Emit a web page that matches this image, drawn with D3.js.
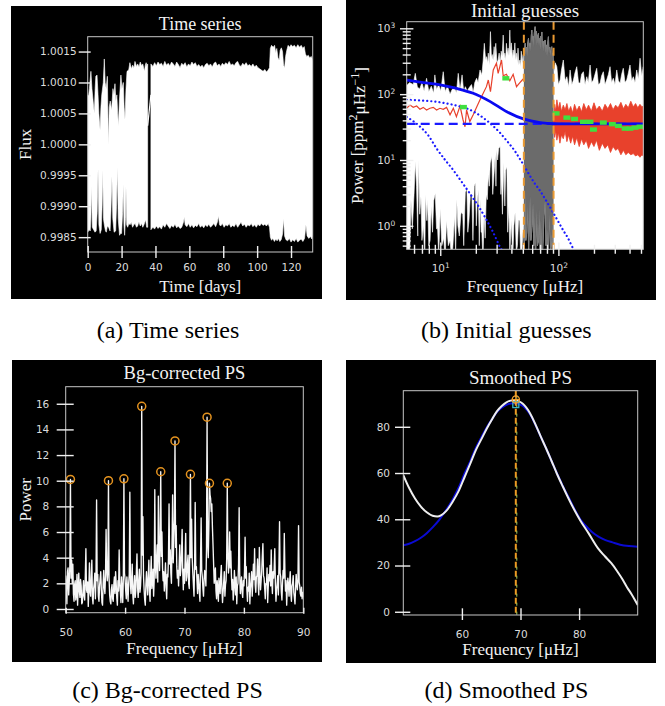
<!DOCTYPE html>
<html>
<head>
<meta charset="utf-8">
<script src="https://cdn.jsdelivr.net/npm/d3@7"></script>
<style>
  body { margin: 0; background: #fff; }
  svg { display: block; }
</style>
</head>
<body>
<svg id="fig" width="665" height="706"></svg>
<script>
// ---------- (a) time series: flux envelope ----------
const tsUpperA = [[0,1.0008],[0.5,1.00078],[1.0,1.0009],[1.9,1.00118],[2.5,1.0009],[3.2,1.0007],[3.9,1.0005],[4.4,1.0009],[4.8,1.0011],[5.5,1.00112],[6.1,1.0008],[6.6,1.0005],[7.3,1.00023],[7.8,1.0006],[8.3,1.0008],[9.2,1.001],[9.8,1.00138],[10.3,1.001],[10.9,1.0009],[11.6,1.0011],[12.2,0.99999],[12.7,1.0006],[13.3,1.0007],[14.1,1.00055],[14.9,1.0009],[15.5,1.0008],[16.1,1.00098],[16.6,1.0007],[17.2,1.0008],[17.7,1.0005],[18.1,1.0003],[18.7,1.0007],[19.6,1.00112],[20.2,1.0009],[21.0,1.001],[21.5,1.0006],[22.0,1.0004],[22.6,1.0009],[23.2,1.00118],[24.2,1.0012],[24.9,1.00132],[25.8,1.00122],[26.5,1.00128],[27.3,1.00124],[27.9,1.00134],[28.8,1.00126],[29.5,1.0013],[30.3,1.00125],[31,1.00133],[31.8,1.00127],[32.5,1.0013],[33.5,1.00118],[34.0,1.00128],[34.5,1.00132],[35.0,1.00126],[35.4,1.0013]];
const tsLowerA = [[0,0.99858],[0.8,0.99862],[1.5,0.9986],[1.9,0.9988],[2.3,0.99932],[2.7,0.99866],[3.5,0.99862],[4.3,0.99858],[5.0,0.9986],[5.6,0.9989],[6.1,0.9996],[6.6,0.9987],[7.3,0.99856],[8.0,0.99862],[8.5,0.999],[8.9,0.99958],[9.3,0.9988],[9.8,0.9987],[10.5,0.9986],[11.0,0.99858],[11.6,0.99868],[12.3,0.99866],[13.2,0.9986],[13.7,0.9989],[14.3,0.99948],[14.8,0.9988],[15.6,0.99858],[16.5,0.9986],[17.0,0.999],[17.5,0.99962],[18.0,0.9988],[18.8,0.99853],[19.4,0.99856],[20.0,0.99856],[20.6,0.9989],[21.0,0.99935],[21.4,0.9987],[21.8,0.99853],[22.3,0.9988],[22.6,0.99932],[23.0,0.9987],[23.6,0.99866],[24.3,0.99872],[25,0.9987],[25.7,0.99874],[26.5,0.99866],[27.2,0.9987],[28,0.99872],[28.8,0.99866],[29.5,0.99868],[30.2,0.99875],[31,0.99868],[31.8,0.99872],[32.5,0.99866],[33.2,0.9987],[34.2,0.99878],[34.8,0.99866],[35.4,0.99866]];
const tsUpperB = [[37.3,1.0013],[38.5,1.00126],[39.5,1.00132],[40.5,1.00127],[41.5,1.00133],[42.5,1.00129],[43.5,1.00131],[44.5,1.00126],[45.5,1.00134],[46.5,1.00128],[47.5,1.00131],[48.5,1.00127],[49.5,1.00133],[50.5,1.0013],[51.5,1.00126],[52.5,1.00133],[53.5,1.00129],[54.5,1.00124],[55.5,1.00131],[56.5,1.00128],[57.5,1.00132],[58.5,1.00125],[59.5,1.0013],[60.5,1.00127],[61.5,1.00133],[62.5,1.00129],[63.5,1.00132],[64.5,1.00126],[65.5,1.00129],[66.5,1.00125],[67.5,1.00128],[68.5,1.00124],[69.5,1.00129],[70.5,1.00131],[71.5,1.00127],[72.5,1.0013],[73.5,1.00125],[74.5,1.00131],[75.5,1.00133],[76.5,1.00127],[77.5,1.0013],[78.5,1.00126],[79.5,1.00131],[80.5,1.00128],[81.5,1.00132],[82.5,1.00129],[83.5,1.00134],[84.5,1.00128],[85.5,1.0013],[86.5,1.00127],[87.5,1.00132],[88.5,1.00134],[89.5,1.00128],[90.5,1.00126],[91.5,1.00131],[92.5,1.00128],[93.5,1.00132],[94.5,1.00127],[95.5,1.00129],[96.5,1.00126],[97.5,1.0013],[98.5,1.00125],[99.5,1.00128],[100.5,1.00124],[101.5,1.00122],[102.5,1.0012],[103.5,1.00118],[104.5,1.00121],[105.5,1.00117],[106.5,1.0012],[107.3,1.00124],[107.8,1.00155],[108.5,1.0016],[109.5,1.00157],[110.3,1.0016],[111.0,1.00148],[111.6,1.00155],[112.3,1.0014],[113.0,1.00136],[113.6,1.00152],[114.3,1.00156],[115.0,1.0015],[115.6,1.00128],[116.2,1.00124],[116.8,1.00142],[117.5,1.00152],[118.3,1.0016],[119.2,1.00157],[120,1.00161],[121,1.00158],[122,1.0016],[123,1.00156],[124,1.00161],[125,1.00157],[126,1.0016],[127,1.00155],[127.8,1.00158],[128.5,1.00146],[129.3,1.00142],[130.2,1.00144],[131,1.0014],[132,1.00142],[133,1.00134]];
const tsLowerB = [[37.3,0.99862],[38.5,0.99866],[39.5,0.99863],[40.5,0.99868],[41.5,0.99864],[42.5,0.99867],[43.5,0.99863],[44.5,0.9987],[45.5,0.99866],[46.5,0.99872],[47.5,0.99868],[48.5,0.99864],[49.5,0.99869],[50.5,0.99866],[51.5,0.99871],[52.5,0.99865],[53.5,0.99868],[54.5,0.99864],[55.5,0.99866],[56.5,0.99874],[57.0,0.99882],[57.5,0.9987],[58.5,0.99867],[59.5,0.99872],[60.5,0.99866],[61.5,0.9987],[62.5,0.99865],[63.5,0.99869],[64.5,0.99867],[65.5,0.99872],[66.5,0.99866],[67.5,0.99869],[68.5,0.99865],[69.5,0.9987],[70.5,0.99867],[71.5,0.99871],[72.5,0.99866],[73.5,0.99869],[74.5,0.99872],[75.5,0.99867],[76.5,0.99874],[77.2,0.99884],[77.8,0.9987],[78.5,0.99868],[79.5,0.99872],[80.5,0.99866],[81.5,0.9987],[82.5,0.99868],[83.5,0.99872],[84.5,0.99866],[85.5,0.99869],[86.5,0.99867],[87.5,0.99872],[88.5,0.99866],[89.5,0.9987],[90.5,0.99874],[91.5,0.99868],[92.5,0.99871],[93.5,0.99866],[94.5,0.9987],[95.5,0.99868],[96.5,0.99872],[97.5,0.99867],[98.5,0.9987],[99.5,0.99866],[100.5,0.99871],[101.5,0.99868],[102.5,0.99872],[103.5,0.99869],[104.5,0.99871],[105.5,0.99868],[106.5,0.99872],[107.3,0.99866],[107.8,0.9985],[108.5,0.99845],[109.3,0.99848],[110.2,0.99843],[111.0,0.99847],[111.8,0.99844],[112.6,0.99848],[113.4,0.99843],[114.2,0.99846],[115.0,0.99855],[115.6,0.9988],[116.2,0.99852],[117.0,0.99846],[118,0.99844],[119,0.99848],[120,0.99842],[121,0.99846],[122,0.99843],[123,0.99848],[124,0.99842],[125,0.99845],[126,0.99847],[127,0.99843],[128,0.99848],[128.8,0.9987],[129.5,0.99852],[130.5,0.99848],[131.5,0.99851],[132.3,0.99847],[133,0.99855]];
const tsGapLine = [[35.4, 1.0003], [37.3, 1.0008]];
const timeTicks = [0, 20, 40, 60, 80, 100, 120];
const fluxTicks = [0.9985, 0.999, 0.9995, 1.0, 1.0005, 1.001, 1.0015];

// ---------- (b) initial guesses: raw PS envelope, smoothed PS, background model ----------
const rawHi = [[5.2,135],[5.5,150],[5.9,140],[6.15,207],[6.4,128],[6.7,120],[7.0,150],[7.3,112],[7.66,174],[8.0,110],[8.4,132],[8.8,104],[9.0,196],[9.3,118],[9.7,140],[10.1,112],[10.6,219],[11.0,110],[11.5,132],[12.1,100],[12.6,118],[13.2,128],[13.7,104],[14.2,207],[14.7,114],[15.3,196],[15.8,108],[16.3,130],[16.9,112],[17.6,126],[18.4,140],[19.0,106],[19.6,150],[20.3,174],[20.9,150],[21.7,233],[22.5,196],[23.1,330],[23.6,592],[24.2,330],[24.6,371],[25.1,300],[25.5,420],[26.0,280],[26.6,890],[27.1,360],[27.5,400],[28.0,330],[28.6,526],[29.0,360],[29.5,592],[30.2,300],[30.9,330],[31.5,420],[32.2,300],[32.8,450],[33.4,380],[34.1,790],[34.7,350],[35.2,420],[35.8,330],[36.3,592],[37.0,400],[37.5,500],[38.2,380],[38.8,940],[39.4,420],[40.0,600],[40.7,350],[41.4,469],[42.1,380],[42.8,600],[43.5,330],[44.2,418],[44.9,300],[45.5,500],[46.3,280],[47.2,330],[47.8,260],[48.5,450],[49.3,300],[50.3,400],[51.0,280],[51.7,450],[52.3,592],[53.0,400],[53.6,520],[54.3,380],[55.0,600],[55.8,705],[56.6,480],[57.5,600],[58.2,450],[58.9,760],[59.6,940],[60.3,600],[61.0,760],[61.7,520],[62.5,850],[63.5,1060],[64.3,640],[65.1,900],[65.8,560],[66.6,760],[67.7,840],[68.5,560],[69.3,700],[70.1,480],[71.0,760],[71.7,600],[72.4,880],[73.3,500],[74.2,640],[75.1,450],[76.0,600],[77.2,665],[78.2,420],[79.2,560],[80.1,380],[81.1,600],[82.3,746],[83.3,420],[84.4,520],[85.6,380],[86.8,500],[87.9,526],[89.0,350],[90.0,420],[91.0,200],[94,300],[97,261],[100,140],[103.4,164],[106,230],[110,330],[114,160],[118,184],[122,130],[125.6,233],[130,140],[134,164],[138,210],[143,261],[148,150],[152.6,146],[157,200],[162.7,219],[168,140],[173.8,184],[179,150],[185.4,277],[191,150],[197.7,164],[204,200],[211,247],[218,140],[225,146],[232,190],[240,219],[248,140],[256,164],[265,200],[273.5,261],[282,150],[291.7,174],[301,140],[311.7,233],[322,160],[332.4,146],[343,200],[354,247],[366,150],[378.5,164],[391,210],[403.6,277],[417,160],[430.5,184],[445,150],[460,233],[475,170],[491,351],[507,190],[523,261]];
const rawLo = [[5.2,0.3],[5.5,0.3],[5.65,2.5],[5.8,0.9],[6.0,3],[6.15,9.4],[6.3,4],[6.45,0.7],[6.55,10],[6.7,1.5],[6.87,2.8],[7.0,0.6],[7.2,1.0],[7.4,0.3],[7.5,3],[7.7,1.2],[7.82,2.5],[8.0,0.5],[8.2,0.6],[8.4,2],[8.6,0.8],[8.8,2.4],[9.07,3.1],[9.3,0.9],[9.5,0.9],[9.7,0.35],[10.0,1.8],[10.3,0.5],[10.7,0.65],[11.0,0.3],[11.3,1.2],[11.7,0.5],[12.1,0.6],[12.5,0.3],[12.8,0.5],[13.2,1.4],[13.5,0.4],[13.8,2.5],[14.1,1.0],[14.5,0.7],[15.0,1.6],[15.5,1.5],[15.8,0.5],[16.3,3.2],[16.8,3.7],[17.1,0.8],[17.5,1.2],[18.0,3],[18.5,3],[18.9,0.6],[19.4,4],[19.8,4.5],[20.2,1.0],[20.5,2],[21.0,3.5],[21.4,0.5],[21.8,2.5],[22.2,0.8],[22.5,0.8],[23.0,0.3],[23.5,1.5],[24.0,0.65],[24.5,3],[25.0,2.5],[25.5,6],[26.0,4],[26.5,9],[27.3,11.3],[27.8,3],[28.5,6],[29.2,12],[29.6,4],[30.0,14],[30.6,10],[31.2,15],[32.1,16],[32.6,3],[33.0,5],[33.6,1.5],[34.5,9],[35.2,2],[35.8,7],[36.6,7.9],[37.2,0.8],[38.0,2],[38.8,0.4],[40.0,1.2],[41,0.3],[42,1.0],[43,1.6],[44,0.4],[45,0.5],[46,1.2],[47,1.2],[48,0.3],[49,0.4],[50.5,1],[51.5,0.4],[52.3,3.2],[53.0,0.6],[54,0.8],[55,2.0],[56,0.4],[57.6,2.8],[58.5,0.6],[60,1.0],[61,2.2],[62,0.5],[63,1.4],[64,0.3],[65.6,1.7],[66.5,0.5],[68,0.6],[69,1.8],[70,0.4],[71,1.2],[72.5,0.3],[74,0.5],[75.5,1.4],[77.2,2.5],[78.5,0.5],[80,0.9],[82,0.3],[84,1.5],[86,0.4],[87.9,0.6],[89,1.2],[90,0.3],[523,0.3]];
const redLeft = [[5.19,61],[5.54,68.5],[5.91,63],[6.31,66],[6.73,59],[7.18,63],[7.66,57.5],[8.18,61],[8.73,63],[9.31,57.5],[9.94,61],[10.6,59],[11.3,63],[12.1,48.5],[12.9,61],[13.7,45.5],[14.7,66],[15.6,40.5],[16.2,32],[16.7,57.5],[17.8,38.3],[19.0,48.5],[20.3,63],[21.7,82],[23.1,103],[24.6,130],[25.5,164],[26.6,109],[28.1,233],[29.9,294],[30.9,207],[33.0,330],[34.1,190],[36.3,200],[38.8,160],[41.4,200],[44.2,130],[47.2,150],[50.3,170]];
const redRightHi = [[91,45],[93,70],[95,55],[97,82],[100,60],[103,75],[106,55],[110,68],[114,58],[118,72],[122,55],[127,65],[132,52],[137,70],[143,56],[150,66],[157,54],[164,72],[172,58],[180,68],[190,55],[200,74],[210,58],[222,66],[235,55],[248,70],[262,60],[276,72],[290,58],[305,68],[320,62],[338,75],[355,60],[372,70],[390,62],[410,78],[430,64],[450,72],[470,62],[490,70],[510,64],[523,66]];
const redRightLo = [[91,30],[93,22],[95,28],[97,20],[100,26],[103,18],[106,24],[110,21],[114,27],[118,19],[122,24],[127,18],[132,23],[137,17],[143,22],[150,16],[157,21],[164,17],[172,20],[180,15],[190,19],[200,16],[210,20],[222,14],[235,18],[248,15],[262,17],[276,13],[290,16],[305,14],[320,15],[338,12],[355,14],[372,12],[390,13],[410,12],[430,12.5],[450,11.5],[470,12],[490,11],[510,12],[523,11.5]];
const bgModel = [[5.2,164],[7.2,150],[10,138],[13.8,122],[19,103],[26.5,77],[36.6,54],[50.6,42],[70,37],[90,35.5],[130,35.3],[523,35.3]];
const harvey1 = [[5.2,82],[7,80],[9,77],[11,73],[13,68.5],[15,64.5],[17,60],[20,52],[23,44],[26,37],[29,31],[32,26],[35,21.5],[39,17],[43,13.5],[47,10.5],[51,8.3],[56,6.2],[62,4.6],[70,3.4],[80,2.3],[90,1.6],[100,1.15],[110,0.85],[120,0.66],[128,0.52],[136,0.42],[142,0.36]];
const harvey2 = [[5.2,45],[6.5,34],[8,23],[9.3,15],[11,10],[12.9,7],[15,4.8],[17.8,3.1],[21,2],[24.6,1.24],[28,0.8],[32,0.48],[34,0.4]];
const whiteNoise = 35.3;
const binned = [[15.7,63.6],[35.9,174],[95.6,51],[118,44],[137,42],[163,38],[185,38],[198,29],[240,37],[286,35],[322,33],[367,30],[403,30],[445,31],[491,32]];
const envBand = [51, 91];
const freqMajor = [10, 100];
const powerMajor = [1, 10, 100, 1000];

// ---------- (c) background-corrected PS, 50-90 uHz every 0.1 uHz ----------
const psStart = 50, psStep = 0.1;
const psPower = [
  2.6,1.8,0.4,2.9,3.2,1.1,2.1,3.4,10.1,2.4,   3.8,2.0,3.5,1.2,0.6,1.9,2.2,0.7,1.1,2.7,
  0.3,1.6,2.8,1.4,0.9,2.3,1.8,0.4,0.5,1.3,   2.2,1.0,0.7,2.6,4.7,1.5,1.3,2.1,0.2,1.7,
  3.6,1.3,1.0,2.4,3.8,0.9,0.4,1.6,2.0,2.8,   0.8,2.5,8.5,2.2,2.7,1.0,0.6,1.8,2.4,2.9,
  1.5,0.5,0.3,2.0,3.0,1.7,1.2,2.6,6.2,3.1,   2.2,2.9,10.0,2.4,1.1,0.6,0.4,1.5,1.9,0.8,
  0.6,1.9,2.5,1.2,2.9,2.0,0.9,0.3,2.2,1.4,   4.6,2.1,1.4,0.5,2.5,1.6,0.5,2.3,10.15,2.8,
  2.3,1.4,0.8,2.5,1.6,0.6,2.0,2.7,9.1,1.9,   1.2,2.3,3.5,1.1,0.4,1.8,2.6,0.9,1.4,3.0,
  4.3,1.7,0.9,2.2,3.1,1.3,1.8,2.8,15.8,4.2,   7.2,2.6,1.5,0.7,0.3,1.9,2.9,2.0,1.1,2.5,
  3.8,1.4,0.6,2.7,4.1,1.6,2.2,3.1,1.0,2.3,   9.3,3.3,2.4,4.0,5.0,2.1,8.8,4.4,3.0,5.5,
  10.7,4.1,6.0,3.2,2.2,2.9,1.4,2.4,3.6,1.7,  0.8,2.7,2.5,4.0,8.2,3.5,4.6,2.8,2.0,5.1,
  8.9,3.6,5.5,7.0,13.1,4.8,6.5,3.3,2.4,3.0,  1.8,3.4,5.0,2.6,3.2,4.4,6.2,2.9,1.5,3.1,
  2.0,3.8,5.9,2.2,2.5,3.6,4.2,2.0,1.6,4.8,   10.5,4.0,7.0,3.9,2.8,1.9,1.0,3.4,8.3,3.1,
  3.3,2.2,1.2,2.7,2.0,1.3,0.6,3.8,7.1,3.0,   2.5,1.6,1.0,2.3,3.0,2.7,1.8,4.6,14.95,5.2,
  4.0,6.3,9.8,8.9,8.6,7.6,8.2,6.4,5.0,3.5,   2.0,2.8,3.2,1.4,0.8,2.2,1.5,0.6,2.4,1.8,
  1.2,2.6,3.4,1.6,0.5,1.3,2.1,2.9,1.0,1.9,   2.2,3.9,9.8,4.4,2.8,3.6,6.0,3.2,4.5,2.6,
  1.5,2.3,0.7,1.4,3.0,2.1,1.1,2.5,0.4,1.8,   2.0,3.5,7.9,2.6,1.2,1.9,2.5,1.3,0.9,2.2,
  1.8,2.9,5.6,2.4,3.3,1.5,0.6,1.7,1.4,2.8,   0.4,1.6,2.2,2.9,1.0,2.1,3.5,2.3,4.7,1.9,
  1.3,2.5,2.6,3.9,2.0,1.1,4.8,2.7,1.5,2.2,   3.0,4.1,5.1,2.6,2.4,1.6,0.8,2.0,1.9,3.2,
  0.5,1.7,2.7,2.2,3.4,1.8,4.6,2.1,1.2,2.9,   2.4,3.2,4.7,1.9,0.6,1.5,2.0,2.6,1.1,3.4,
  6.8,2.8,2.5,1.3,0.7,2.0,3.0,2.4,5.9,3.1,   1.4,2.2,0.3,1.5,2.4,1.9,1.0,2.1,2.9,1.2,
  0.6,1.8,2.0,2.6,1.3,0.9,0.4,1.6,2.7,1.9,   1.5,2.3,6.5,2.1,1.8,1.2,1.0,1.7,0.8,1.3,
  0.9
];
const peakFreq = [50.8, 57.2, 59.8, 62.8, 66.0, 68.4, 71.0, 73.8, 74.2, 77.2];
const peakPower = [10.1, 10.0, 10.15, 15.8, 10.7, 13.1, 10.5, 14.95, 9.8, 9.8];

// ---------- (d) smoothed PS and Gaussian fit ----------
const smoothPS = [[50,59.1],[51,53.5],[52,49],[53,45.5],[54,43],[55,41.5],[55.8,41.2],[56.5,41.8],[57.3,43.5],[58.4,47.5],[59.5,52.5],[60.5,58.5],[61.5,64.5],[62.4,70],[63.4,75],[64.3,79.5],[65.2,83.5],[66,86.8],[66.8,89],[67.6,90.6],[68.3,91.3],[69,91.5],[69.7,91],[70.4,90],[71,88.3],[71.6,86],[72.7,80.2],[73.5,75.5],[74.4,70.5],[75.3,65.2],[76.2,59.8],[77.2,54.3],[78.2,49],[79.2,44],[80.2,39.5],[81.6,34],[83.2,27.5],[84.4,24],[85.5,21],[86.5,17.5],[87.5,13.6],[88.2,10.5],[88.9,7.8],[89.5,5.2],[90,2.9]];
const gaussFit = [[50,28.8],[51,29.4],[52,30.5],[53,32],[54,34],[55,36.5],[56.2,40],[57.3,44],[58.4,48.5],[59.5,54],[60.5,60],[61.5,65.5],[62.4,71],[63.4,75.8],[64.3,80],[65.2,83.5],[66,86.5],[66.8,88.3],[67.6,89.5],[68.3,90.1],[69,90.2],[69.7,89.8],[70.4,89],[71,87.5],[71.6,85.5],[72.7,80],[73.5,75.5],[74.4,70.5],[75.3,65.2],[76.2,60],[77.2,54.5],[78.2,49.5],[79.2,44.5],[80.2,40],[81.2,37],[82.2,34.5],[83.3,32.5],[84.5,31],[85.7,30],[87,29],[88.5,28.4],[90,28.1]];
const numax = 69.2;
const numaxSmooth = 91.8, numaxFit = 89.6;

// ---------- helpers ----------
const svg = d3.select('#fig');
const SPINE = '#c6c6c6', TICK = '#f0f0f0', TXT = '#dcdcdc', HEAD = '#f2f2f2';
const SANS = '"DejaVu Sans", sans-serif';
const SERIF = '"Liberation Serif", "Times New Roman", serif';

function panelBox(bg, p, id) {
  svg.append('rect').attr('x', bg[0]).attr('y', bg[1]).attr('width', bg[2]).attr('height', bg[3]).attr('fill', '#000');
  svg.append('clipPath').attr('id', id).append('rect')
    .attr('x', p.l).attr('y', p.t).attr('width', p.r - p.l).attr('height', p.b - p.t);
  return svg.append('g').attr('clip-path', `url(#${id})`);
}

function frame(p) {
  svg.append('rect').attr('x', p.l).attr('y', p.t).attr('width', p.r - p.l).attr('height', p.b - p.t)
    .attr('fill', 'none').attr('stroke', SPINE).attr('stroke-width', 1);
}

function styleAxis(g) {
  g.select('.domain').remove();
  g.attr('font-family', SANS).attr('font-size', 10.5);
  g.selectAll('.tick text').attr('fill', TXT);
  g.selectAll('.tick line').attr('stroke', TICK).attr('stroke-width', 1.4);
}

function xAxis(p, scale, vals, o) {
  const g = svg.append('g').attr('transform', `translate(0,${p.b})`)
    .call(d3.axisBottom(scale).tickValues(vals).tickSize(o.out).tickPadding(o.pad).tickFormat(o.fmt || d3.format('d')));
  styleAxis(g);
  g.selectAll('.tick line').attr('y1', -o.in);
  return g;
}

function yAxis(p, scale, vals, o) {
  const g = svg.append('g').attr('transform', `translate(${p.l},0)`)
    .call(d3.axisLeft(scale).tickValues(vals).tickSize(o.out).tickPadding(o.pad).tickFormat(o.fmt || d3.format('d')));
  styleAxis(g);
  g.selectAll('.tick line').attr('x1', o.in);
  return g;
}

function powerTen(g) {
  g.selectAll('.tick text').each(function(d) {
    const t = d3.select(this);
    t.text(null);
    t.append('tspan').text('10');
    t.append('tspan').attr('dy', '-0.5em').attr('font-size', '7.5px').text(Math.round(Math.log10(d)));
  });
}

function text(str, x, y, size, opts = {}) {
  const t = svg.append('text').attr('x', x).attr('y', y)
    .style('font-family', SERIF).attr('font-size', size)
    .attr('fill', opts.fill || HEAD).attr('text-anchor', 'middle').text(str);
  if (opts.rot) t.attr('x', 0).attr('y', 0).attr('transform', `translate(${x},${y}) rotate(-90)`);
  return t;
}

function envelope(hi, lo, x, y) {
  const pts = hi.concat(lo.slice().reverse());
  return d3.line().x(d => x(d[0])).y(d => y(d[1]))(pts) + 'Z';
}

// ---------- panel (a) ----------
const pA = { l: 87.7, r: 312.7, t: 36.7, b: 252 };
const gA = panelBox([11, 6, 311, 293], pA, 'clipA');
const xA = d3.scaleLinear([0, 132.8], [pA.l, pA.r]);
const yA = d3.scaleLinear([0.99826, 1.00174], [pA.b, pA.t]);

gA.append('path').attr('d', envelope(tsUpperA, tsLowerA, xA, yA))
  .attr('fill', '#fff').attr('stroke', '#fff').attr('stroke-width', 0.6);
gA.append('path').attr('d', envelope(tsUpperB, tsLowerB, xA, yA))
  .attr('fill', '#fff').attr('stroke', '#fff').attr('stroke-width', 0.6);
gA.append('path').attr('d', d3.line().x(d => xA(d[0])).y(d => yA(d[1]))(tsGapLine))
  .attr('stroke', '#fff').attr('stroke-width', 1.2).attr('fill', 'none');

frame(pA);
xAxis(pA, xA, timeTicks, { out: 6, in: 6, pad: 5.5 });
yAxis(pA, yA, fluxTicks, { out: 9, in: 3, pad: 2, fmt: d3.format('.4f') });
text('Time series', (pA.l + pA.r) / 2, 29.5, 18);
text('Time [days]', (pA.l + pA.r) / 2, 292.3, 17);
text('Flux', 31, (pA.t + pA.b) / 2, 17, { rot: true });

// ---------- panel (b) ----------
const pB = { l: 406.7, r: 643.3, t: 21.7, b: 249.3 };
const gB = panelBox([346, 0, 310, 300], pB, 'clipB');
const xB = d3.scaleLog([5.2, 523], [pB.l, pB.r]);
const yB = d3.scaleLog([0.44, 1260], [pB.b, pB.t]);

const rawPath = envelope(rawHi, rawLo, xB, yB);
gB.append('path').attr('d', rawPath).attr('fill', '#fff').attr('stroke', '#fff').attr('stroke-width', 0.6);
svg.append('clipPath').attr('id', 'bandClip').append('rect')
  .attr('x', xB(envBand[0])).attr('y', pB.t).attr('width', xB(envBand[1]) - xB(envBand[0])).attr('height', pB.b - pB.t);
gB.append('g').attr('clip-path', 'url(#bandClip)').append('path').attr('d', rawPath)
  .attr('fill', '#6b6b6b').attr('stroke', '#6b6b6b').attr('stroke-width', 0.6);

const lineB = d3.line().x(d => xB(d[0])).y(d => yB(d[1]));
gB.append('path').attr('d', lineB(redLeft)).attr('fill', 'none').attr('stroke', '#e8412c').attr('stroke-width', 1.2);
gB.append('path').attr('d', envelope(redRightHi, redRightLo, xB, yB))
  .attr('fill', '#e8412c').attr('stroke', '#e8412c').attr('stroke-width', 0.8);

const smoothB = d3.line().x(d => xB(d[0])).y(d => yB(d[1])).curve(d3.curveMonotoneX);
[harvey1, harvey2].forEach(h => {
  gB.append('path').attr('d', smoothB(h)).attr('fill', 'none').attr('stroke', '#1a1aff')
    .attr('stroke-width', 2.2).attr('stroke-dasharray', '0.1,4').attr('stroke-linecap', 'round');
});
gB.append('line').attr('x1', pB.l).attr('x2', pB.r).attr('y1', yB(whiteNoise)).attr('y2', yB(whiteNoise))
  .attr('stroke', '#1a1aff').attr('stroke-width', 2.2).attr('stroke-dasharray', '9,5');
gB.append('path').attr('d', smoothB(bgModel)).attr('fill', 'none').attr('stroke', '#0a0af0').attr('stroke-width', 2.8);

gB.selectAll('rect.bin').data(binned).join('rect').attr('class', 'bin')
  .attr('x', d => xB(d[0]) - 3.5).attr('y', d => yB(d[1]) - 2.2).attr('width', 7).attr('height', 4.4)
  .attr('fill', '#3fe03f');

gB.selectAll('line.band').data(envBand).join('line').attr('class', 'band')
  .attr('x1', d => xB(d)).attr('x2', d => xB(d)).attr('y1', pB.t).attr('y2', pB.b)
  .attr('stroke', '#ea9a33').attr('stroke-width', 2).attr('stroke-dasharray', '8,5');

frame(pB);
const isMajor = (v, list) => list.some(m => Math.abs(v / m - 1) < 1e-6);
const freqMinor = xB.ticks().filter(v => !isMajor(v, freqMajor));
const powerMinor = yB.ticks().filter(v => !isMajor(v, powerMajor));
xAxis(pB, xB, freqMinor, { out: 4.5, in: 4.5, pad: 0, fmt: () => '' });
powerTen(xAxis(pB, xB, freqMajor, { out: 6.7, in: 6.7, pad: 8.2 }));
yAxis(pB, yB, powerMinor, { out: 4, in: 4, pad: 0, fmt: () => '' });
powerTen(yAxis(pB, yB, powerMajor, { out: 6.7, in: 6.7, pad: 4.7 }));

text('Initial guesses', (pB.l + pB.r) / 2, 17, 19);
text('Frequency [\u03bcHz]', (pB.l + pB.r) / 2, 292, 17);
const yl = text('', 362.5, (pB.t + pB.b) / 2, 17, { rot: true });
yl.append('tspan').text('Power [ppm');
yl.append('tspan').attr('dy', '-0.45em').attr('font-size', 12).text('2');
yl.append('tspan').attr('dy', '0.45em').text('\u03bcHz');
yl.append('tspan').attr('dy', '-0.45em').attr('font-size', 12).text('\u22121');
yl.append('tspan').attr('dy', '0.45em').text(']');

// ---------- panel (c) ----------
const pC = { l: 65.7, r: 303.3, t: 386.7, b: 612.7 };
const gC = panelBox([12, 360, 310, 302], pC, 'clipC');
const xC = d3.scaleLinear([50, 90], [pC.l, pC.r]);
const yC = d3.scaleLinear([-0.29, 17.33], [pC.b, pC.t]);

gC.append('path')
  .attr('d', d3.line().x((d, i) => xC(psStart + psStep * i)).y(d => yC(d))(psPower))
  .attr('fill', 'none').attr('stroke', '#f6f6f6').attr('stroke-width', 1.35).attr('stroke-linejoin', 'round');
gC.selectAll('circle').data(peakFreq).join('circle')
  .attr('cx', d => xC(d)).attr('cy', (d, i) => yC(peakPower[i])).attr('r', 4)
  .attr('fill', 'none').attr('stroke', '#e3921f').attr('stroke-width', 1.5);

frame(pC);
xAxis(pC, xC, [50, 60, 70, 80, 90], { out: 1, in: 5, pad: 15.3 });
yAxis(pC, yC, d3.range(0, 17, 2), { out: 9, in: 8, pad: 7.4 });
text('Bg-corrected PS', (pC.l + pC.r) / 2, 378.5, 18.5);
text('Frequency [\u03bcHz]', (pC.l + pC.r) / 2, 654, 17);
text('Power', 30.5, (pC.t + pC.b) / 2, 17, { rot: true });

// ---------- panel (d) ----------
const pD = { l: 403.3, r: 637.7, t: 390.7, b: 615 };
const gD = panelBox([346, 360, 310, 303], pD, 'clipD');
const xD = d3.scaleLinear([50, 90], [pD.l, pD.r]);
const yD = d3.scaleLinear([-1.4, 95.6], [pD.b, pD.t]);
const lineD = d3.line().x(d => xD(d[0])).y(d => yD(d[1])).curve(d3.curveMonotoneX);

gD.append('path').attr('d', lineD(gaussFit)).attr('fill', 'none').attr('stroke', '#0a0ad2').attr('stroke-width', 2);
gD.append('path').attr('d', lineD(smoothPS)).attr('fill', 'none').attr('stroke', '#eeeeee').attr('stroke-width', 2);
gD.append('line').attr('x1', xD(numax)).attr('x2', xD(numax)).attr('y1', pD.t).attr('y2', pD.b)
  .attr('stroke', '#ec9a22').attr('stroke-width', 2).attr('stroke-dasharray', '6,3');
gD.append('line').attr('x1', xD(numax) + 1).attr('x2', xD(numax) + 1).attr('y1', pD.t + 5).attr('y2', pD.b)
  .attr('stroke', '#a8d060').attr('stroke-width', 1).attr('stroke-dasharray', '3,6');
gD.append('rect').attr('x', xD(numax) - 3).attr('y', yD(numaxFit) - 3).attr('width', 6).attr('height', 6)
  .attr('fill', 'none').attr('stroke', '#3ab7c4').attr('stroke-width', 1.3);
gD.append('circle').attr('cx', xD(numax)).attr('cy', yD(numaxSmooth)).attr('r', 3.6)
  .attr('fill', 'none').attr('stroke', '#f0a030').attr('stroke-width', 1.4);
gD.append('path').attr('d', `M${xD(numax) - 4},${yD(numaxSmooth)}h8M${xD(numax)},${yD(numaxSmooth) - 4}v8`)
  .attr('stroke', '#f0a030').attr('stroke-width', 1.2);

frame(pD);
xAxis(pD, xD, [60, 70, 80], { out: 5, in: 6.7, pad: 10.8 });
yAxis(pD, yD, [0, 20, 40, 60, 80], { out: 8.3, in: 7, pad: 5 });
text('Smoothed PS', (pD.l + pD.r) / 2, 383.5, 19);
text('Frequency [\u03bcHz]', (pD.l + pD.r) / 2, 655, 17);

// ---------- captions ----------
text('(a) Time series', 168, 338, 24, { fill: '#000' });
text('(b) Initial guesses', 506.4, 338, 24, { fill: '#000' });
text('(c) Bg-corrected PS', 167.5, 698, 24, { fill: '#000' });
text('(d) Smoothed PS', 506.4, 698, 24, { fill: '#000' });
</script>
</body>
</html>
